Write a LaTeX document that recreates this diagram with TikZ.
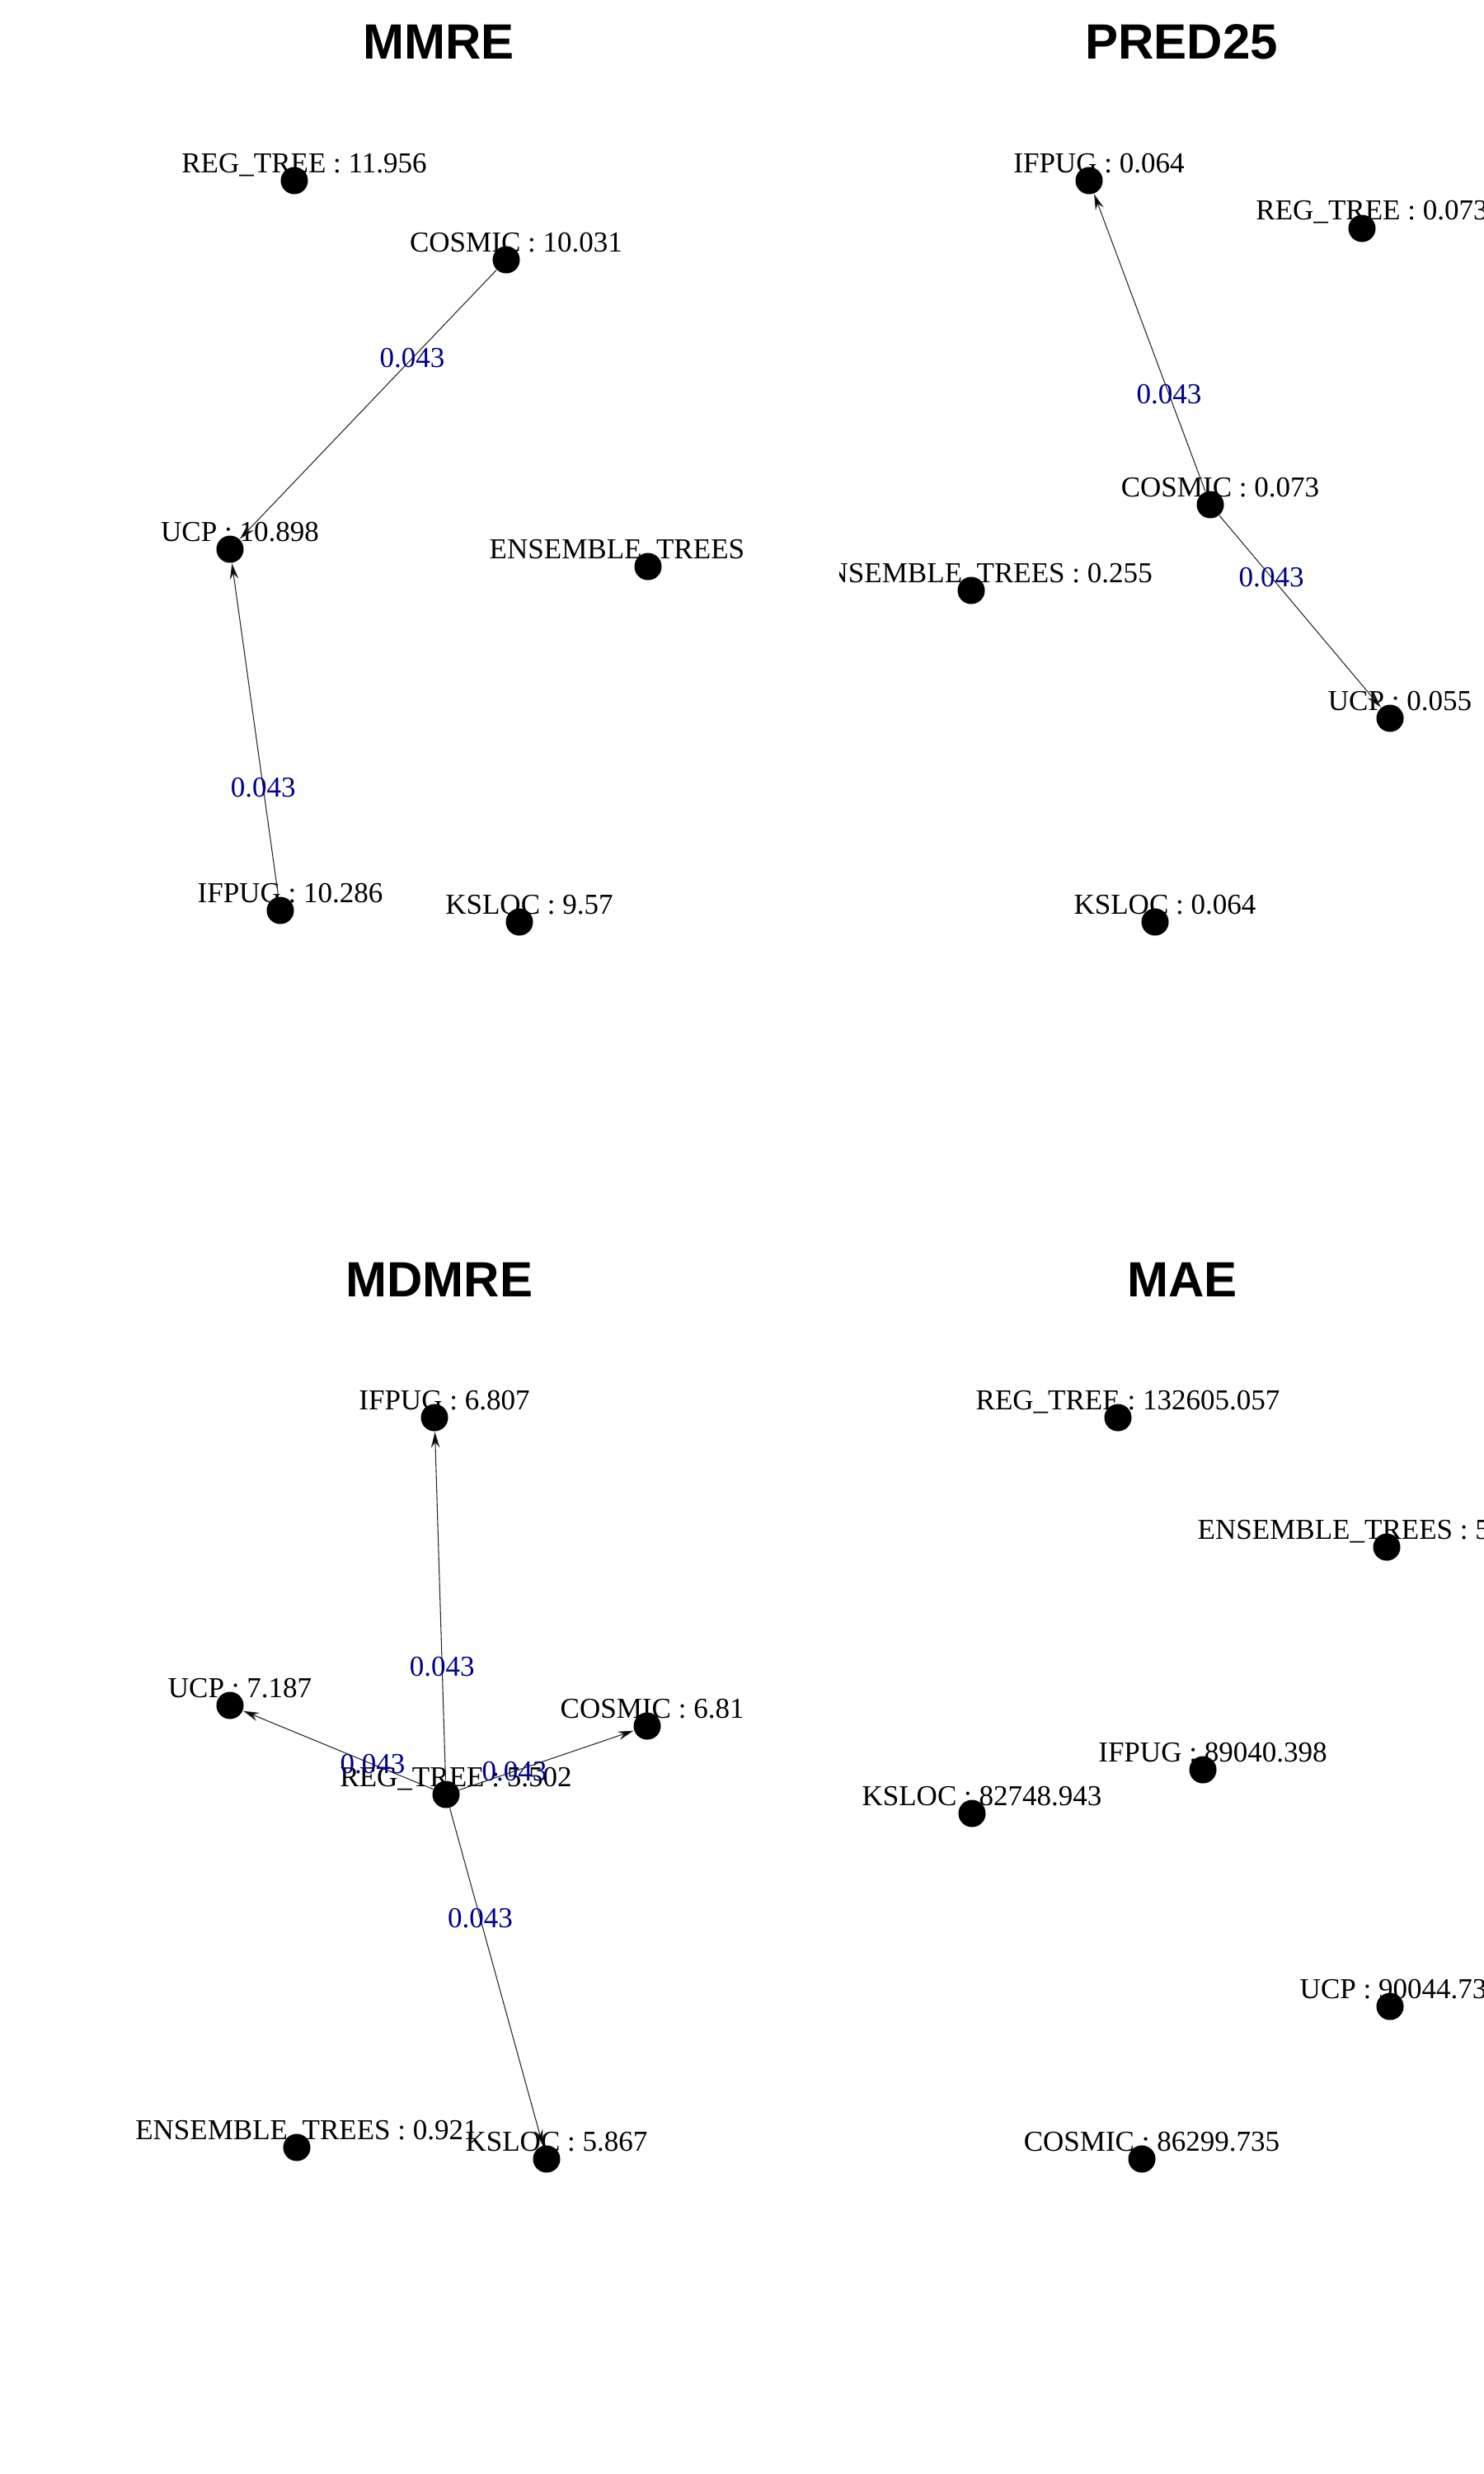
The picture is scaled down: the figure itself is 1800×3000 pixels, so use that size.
\documentclass[tikz,border=0pt]{standalone}
\usepackage{fontspec}
\setmainfont{Liberation Serif}
\newfontfamily\titlefont{Liberation Sans}
\usetikzlibrary{arrows.meta,calc}
\definecolor{edgeblue}{HTML}{00008B}
\tikzset{
  dot/.style={circle,fill=black,draw=none,inner sep=0pt,minimum size=3.3mm},
  vlab/.style={anchor=base,inner sep=0pt,font=\fontsize{9.96}{12}\selectfont},
  vlabw/.style={anchor=base west,inner sep=0pt,font=\fontsize{9.96}{12}\selectfont},
  elab/.style={inner sep=0pt,text=edgeblue,font=\fontsize{9.96}{12}\selectfont},
  link/.style={draw=black!85,line width=0.3pt,-{Stealth[length=5.5pt,width=3pt,fill=black]}},
  ptitle/.style={anchor=base,inner sep=0pt,font=\titlefont\bfseries\fontsize{17.07}{20}\selectfont}
}
\newcommand{\vtx}[4]{%
  \node[dot] (#1) at (#2,#3) {};
  \node[vlab] (#1l) at ($(#1)+(12,-10)$) {#4};}
\newcommand{\vtxw}[5]{%
  \node[dot] (#1) at (#2,#3) {};
  \node[vlabw] (#1l) at (#4,#3-10) {#5};}
\begin{document}
\begin{tikzpicture}[x=0.01cm,y=-0.01cm]
\fill[white] (0,0) rectangle (1800,3000);
\useasboundingbox (0,0) rectangle (1800,3000);

% ---------------- MMRE ----------------
\node[ptitle] (tmmre) at (532,72) {MMRE};
\begin{scope}
\clip (0,0) rectangle (901,1500);
\vtx{mreg}{357}{219}{REG\_TREE : 11.956}
\vtx{mcos}{614}{315}{COSMIC : 10.031}
\vtx{mucp}{279}{666}{UCP : 10.898}
\vtxw{mens}{786}{687}{593}{ENSEMBLE\_TREES}
\vtx{mifp}{340}{1104}{IFPUG : 10.286}
\vtx{mksl}{630}{1118}{KSLOC : 9.57}
\draw[link] (mcos) -- (mucp);
\draw[link] (mifp) -- (mucp);
\node[elab] (e1) at ($(mcos)!0.34!(mucp)$) {0.043};
\node[elab] (e2) at ($(mifp)!0.34!(mucp)$) {0.043};
\end{scope}

% ---------------- PRED25 ----------------
\node[ptitle] (tpred) at (1433,72) {PRED25};
\begin{scope}
\clip (1018,0) rectangle (1800,1500);
\vtx{pifp}{1321}{219}{IFPUG : 0.064}
\vtx{preg}{1652}{277}{REG\_TREE : 0.073}
\vtx{pcos}{1468}{612}{COSMIC : 0.073}
\vtx{pens}{1178}{716}{ENSEMBLE\_TREES : 0.255}
\vtx{pucp}{1686}{871}{UCP : 0.055}
\vtx{pksl}{1401}{1118}{KSLOC : 0.064}
\draw[link] (pcos) -- (pifp);
\draw[link] (pcos) -- (pucp);
\node[elab] (e3) at ($(pcos)!0.34!(pifp)$) {0.043};
\node[elab] (e4) at ($(pcos)!0.34!(pucp)$) {0.043};
\end{scope}

% ---------------- MDMRE ----------------
\node[ptitle] (tmdmre) at (533,1572) {MDMRE};
\begin{scope}
\clip (0,1500) rectangle (901,3000);
\vtx{difp}{527}{1719}{IFPUG : 6.807}
\vtx{ducp}{279}{2068}{UCP : 7.187}
\vtxw{dcos}{785}{2093}{679}{COSMIC : 6.81}
\vtx{dreg}{541}{2176}{REG\_TREE : 5.502}
\vtx{dens}{360}{2604}{ENSEMBLE\_TREES : 0.921}
\vtx{dksl}{663}{2618}{KSLOC : 5.867}
\draw[link] (dreg) -- (difp);
\draw[link] (dreg) -- (ducp);
\draw[link] (dreg) -- (dcos);
\draw[link] (dreg) -- (dksl);
\node[elab] (e5) at ($(dreg)!0.34!(difp)$) {0.043};
\node[elab] (e6) at ($(dreg)!0.34!(ducp)$) {0.043};
\node[elab] (e7) at ($(dreg)!0.34!(dcos)$) {0.043};
\node[elab] (e8) at ($(dreg)!0.34!(dksl)$) {0.043};
\end{scope}

% ---------------- MAE ----------------
\node[ptitle] (tmae) at (1434,1572) {MAE};
\begin{scope}
\clip (1018,1500) rectangle (1800,3000);
\vtx{areg}{1356}{1719}{REG\_TREE : 132605.057}
\vtxw{aens}{1682}{1876}{1452}{ENSEMBLE\_TREES : 5}
\vtx{aifp}{1459}{2146}{IFPUG : 89040.398}
\vtx{aksl}{1179}{2199}{KSLOC : 82748.943}
\vtxw{aucp}{1686}{2433}{1576}{UCP : 90044.73}
\vtx{acos}{1385}{2618}{COSMIC : 86299.735}
\end{scope}
\end{tikzpicture}
\end{document}
